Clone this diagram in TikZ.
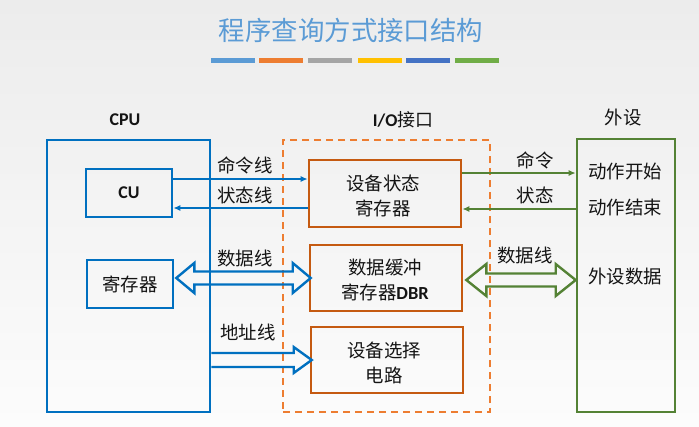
\documentclass[tikz,border=0pt]{standalone}
\usepackage{fontspec}
\setmainfont{Carlito}
\newfontfamily\cjk{Noto Sans CJK SC}
\usetikzlibrary{arrows.meta,calc}
\definecolor{cpublue}{RGB}{0,112,192}
\definecolor{boxorange}{RGB}{197,90,17}
\definecolor{dashorange}{RGB}{237,125,49}
\definecolor{devgreen}{RGB}{84,130,53}
\definecolor{titleblue}{RGB}{91,155,213}
\definecolor{txt}{RGB}{20,20,20}
\definecolor{barA}{RGB}{91,155,213}
\definecolor{barB}{RGB}{237,125,49}
\definecolor{barC}{RGB}{165,165,165}
\definecolor{barD}{RGB}{255,192,0}
\definecolor{barE}{RGB}{68,114,196}
\definecolor{barF}{RGB}{112,173,71}
\definecolor{bgtop}{RGB}{236,236,236}
\definecolor{bgbot}{RGB}{252,252,252}
\tikzset{
  lbl/.style={font=\fontsize{18.5}{20}\selectfont\cjk, text=txt, inner sep=0pt},
  boxtxt/.style={font=\fontsize{18.5}{25}\selectfont\cjk, text=txt, align=center, inner sep=0pt},
  headlbl/.style={font=\fontsize{18}{20}\selectfont\bfseries, text=txt, inner sep=0pt},
  bluebox/.style={draw=cpublue, line width=2.6bp, inner sep=0pt},
  orangebox/.style={draw=boxorange, line width=2.6bp, inner sep=0pt},
  dashbox/.style={draw=dashorange, line width=1.8bp, dash pattern=on 7bp off 5bp, inner sep=0pt},
  greenbox/.style={draw=devgreen, line width=2.6bp, inner sep=0pt},
  thinarrow/.style={line width=1.5bp, -{Latex[length=7bp,width=6bp]}},
  hollow/.style={line width=2.4bp, line join=miter},
  bar/.style={inner sep=0pt, minimum width=44bp, minimum height=5bp}
}
\begin{document}
\begin{tikzpicture}[x=1bp,y=-1bp]
\useasboundingbox (0,0) rectangle (699,426);
\fill[top color=bgtop, bottom color=bgbot] (0,0) rectangle (699,426);

% title
\node[font=\fontsize{26.5}{28}\selectfont\cjk, text=titleblue, inner sep=0pt] (title) at (351,30) {程序查询方式接口结构};
\node[bar, fill=barA] (b1) at (233,60) {};
\node[bar, fill=barB] (b2) at (281,60) {};
\node[bar, fill=barC] (b3) at (330,60) {};
\node[bar, fill=barD] (b4) at (379.5,60) {};
\node[bar, fill=barE] (b5) at (427.5,60) {};
\node[bar, fill=barF] (b6) at (476.5,60) {};

% CPU
\node[headlbl] (cpulbl) at (125,120) {CPU};
\node[bluebox, minimum width=163bp, minimum height=272bp] (cpu) at (128.5,276) {};
\node[bluebox, minimum width=86bp, minimum height=48bp, font=\fontsize{18}{20}\selectfont\bfseries, text=txt] (cu) at (129,193) {CU};
\node[bluebox, minimum width=86bp, minimum height=48bp, font=\fontsize{18.5}{20}\selectfont\cjk, text=txt] (reg) at (130,284) {寄存器};

% I/O interface
\node[font=\fontsize{18}{20}\selectfont, text=txt, inner sep=0pt] (iolbl) at (403,120) {\textbf{I/O}{\cjk 接口}};
\node[dashbox, minimum width=207bp, minimum height=272bp] (io) at (386.5,276) {};
\node[orangebox, minimum width=152bp, minimum height=67bp] (sreg) at (385,193.5) {};
\node[orangebox, minimum width=152bp, minimum height=66bp] (dbr) at (386,278) {};
\node[orangebox, minimum width=152bp, minimum height=66bp] (sel) at (387,360) {};
\node[boxtxt] (sregt) at (383,195.5) {设备状态\\寄存器};
\node[boxtxt] (dbrt) at (385,280) {数据缓冲\\寄存器\textbf{\fontspec{Carlito}DBR}};
\node[boxtxt] (selt) at (384,362.5) {设备选择\\电路};

% device
\node[lbl] (devlbl) at (623,118) {外设};
\node[greenbox, minimum width=98bp, minimum height=273bp] (dev) at (626,275.5) {};
\node[lbl] (d1) at (625,172) {动作开始};
\node[lbl] (d2) at (625,207) {动作结束};
\node[lbl] (d3) at (625,277) {外设数据};

% CPU <-> interface thin arrows
\coordinate (c1) at ($(cu.east)+(0,-14)$);
\coordinate (c2) at ($(cu.east)+(0,15)$);
\draw[thinarrow, cpublue] (c1) -- (c1 -| sreg.west);
\draw[thinarrow, cpublue] (c2 -| sreg.west) -- (c2);
\node[lbl] (l1) at (245,165) {命令线};
\node[lbl] (l2) at (245,195) {状态线};

% data bus (blue, double headed hollow)
\draw[hollow, cpublue] let \p1=(reg.east), \p2=(dbr.west) in
  (\x1+2bp,\y2) -- ++(18bp,15bp) -- ++(0,-8.5bp) -- (\x2-16bp,\y2+6.5bp) -- ++(0,8.5bp)
  -- (\x2+2bp,\y2) -- ++(-18bp,-15bp) -- ++(0,8.5bp) -- (\x1+20bp,\y2-6.5bp) -- ++(0,-8.5bp) -- cycle;
\node[lbl] (l3) at (245,258) {数据线};

% address bus (blue, single headed hollow)
\draw[hollow, cpublue] let \p1=(cpu.east), \p2=(sel.west) in
  (\x1,\y2+7bp) -- (\x2-16bp,\y2+7bp) -- ++(0,6bp) -- (\x2+2bp,\y2+0bp)
  -- (\x2-16bp,\y2-13bp) -- ++(0,6bp) -- (\x1,\y2-7bp);
\node[lbl] (l4) at (248,332) {地址线};

% interface <-> device
\coordinate (c3) at ($(sreg.east)+(0,-20.5)$);
\coordinate (c4) at ($(sreg.east)+(0,15.5)$);
\draw[thinarrow, devgreen] (c3) -- (c3 -| dev.west);
\draw[thinarrow, devgreen] (c4 -| dev.west) -- (c4);
\node[lbl] (r1) at (535,160) {命令};
\node[lbl] (r2) at (535,195) {状态};

\draw[hollow, devgreen] let \p1=(dbr.east), \p2=(dev.west) in
  (\x1+3bp,\y1-2bp) -- ++(20bp,16bp) -- ++(0,-9.5bp) -- (\x2-20bp,\y1+4.5bp) -- ++(0,9.5bp)
  -- (\x2,\y1-2bp) -- ++(-20bp,-16bp) -- ++(0,9.5bp) -- (\x1+23bp,\y1-8.5bp) -- ++(0,-9.5bp) -- cycle;
\node[lbl] (r3) at (525,255) {数据线};
\end{tikzpicture}
\end{document}
